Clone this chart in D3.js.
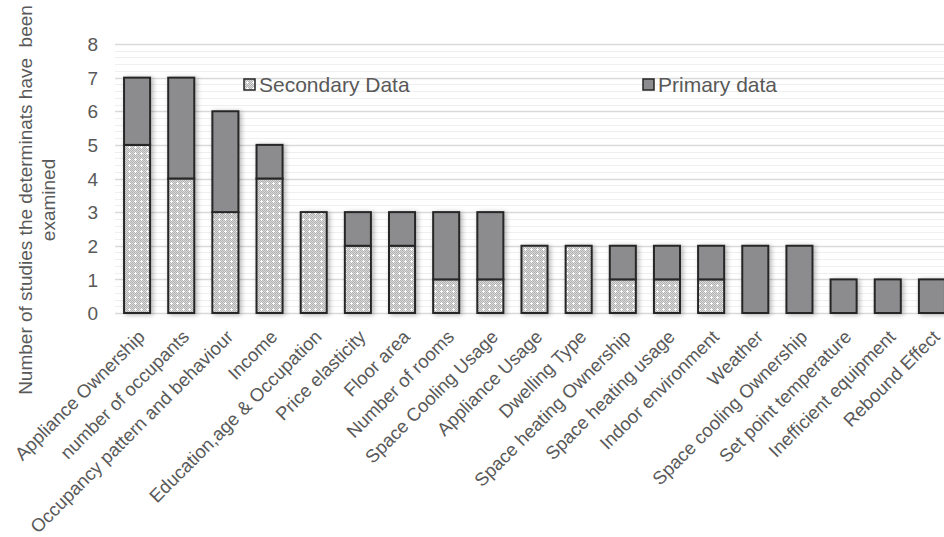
<!DOCTYPE html>
<html>
<head>
<meta charset="utf-8">
<script src="https://cdn.jsdelivr.net/npm/d3@7"></script>
<style>
  html, body { margin: 0; padding: 0; background: #fff; }
  svg { display: block; font-family: "Liberation Sans", Arial, sans-serif; }
</style>
</head>
<body>
<svg id="chart" width="944" height="537"></svg>
<script>
const categories = ["Appliance Ownership","number of occupants","Occupancy pattern and behaviour","Income","Education,age & Occupation","Price elasticity","Floor area","Number of rooms","Space Cooling Usage","Appliance Usage","Dwelling Type","Space heating Ownership","Space heating usage","Indoor environment","Weather","Space cooling Ownership","Set point temperature","Inefficient equipment","Rebound Effect"];
const secondary = [5,4,3,4,3,2,2,1,1,2,2,1,1,1,0,0,0,0,0];
const primary   = [2,3,3,1,0,1,1,2,2,0,0,1,1,1,2,2,1,1,1];
const seriesNames = ["Secondary Data","Primary data"];
const yTicks = [0,1,2,3,4,5,6,7,8];
const yTitle = ["Number of studies the determinats have  been","examined"];

const svg = d3.select("#chart");
const W = 944, H = 537;
const plot = {left:115, right:954, top:44, bottom:313};
const txt = "#595959";

const defs = svg.append("defs");
const pat = defs.append("pattern").attr("id","dots").attr("patternUnits","userSpaceOnUse")
  .attr("width",6).attr("height",6);
pat.append("rect").attr("width",6).attr("height",6).attr("fill","#dadada");
for (let i=0;i<6;i++) for (let j=0;j<6;j++) if ((i+j)%2===0)
  pat.append("rect").attr("x",i).attr("y",j).attr("width",1).attr("height",1).attr("fill","#b2b2b2");
pat.append("rect").attr("x",3).attr("y",2).attr("width",1).attr("height",3).attr("fill","#ffffff");
pat.append("rect").attr("x",2).attr("y",3).attr("width",3).attr("height",1).attr("fill","#ffffff");

const f = defs.append("filter").attr("id","shadow").attr("x","-30%").attr("y","-10%").attr("width","160%").attr("height","120%");
f.append("feGaussianBlur").attr("in","SourceAlpha").attr("stdDeviation",2.5);
f.append("feOffset").attr("dx",2).attr("dy",1).attr("result","b");
f.append("feComponentTransfer").append("feFuncA").attr("type","linear").attr("slope",0.3);
const m = f.append("feMerge"); m.append("feMergeNode"); m.append("feMergeNode").attr("in","SourceGraphic");

const x = d3.scaleBand().domain(categories).range([plot.left, plot.right]).paddingInner(0.41).paddingOuter(0.205);
const y = d3.scaleLinear().domain([0,8]).range([plot.bottom, plot.top]);

// minor gridlines
const minor = d3.range(0, 8.0001, 0.2).filter(v => Math.abs(v - Math.round(v)) > 1e-6);
svg.append("g").selectAll("line").data(minor).join("line")
  .attr("x1",plot.left).attr("x2",W).attr("y1",d=>Math.round(y(d))+0.5).attr("y2",d=>Math.round(y(d))+0.5)
  .attr("stroke","#efefef").attr("stroke-width",1.2);
// major gridlines
svg.append("g").selectAll("line").data(yTicks).join("line")
  .attr("x1",plot.left).attr("x2",W).attr("y1",d=>Math.round(y(d))+0.5).attr("y2",d=>Math.round(y(d))+0.5)
  .attr("stroke","#d9d9d9").attr("stroke-width",1.5);

// y axis
const yAxis = d3.axisLeft(y).tickValues(yTicks).tickSize(0).tickPadding(0);
const ya = svg.append("g").attr("transform","translate(98,0)").call(yAxis);
ya.select(".domain").remove();
ya.selectAll("text").attr("font-size",19).attr("fill",txt).attr("font-family","Liberation Sans, Arial, sans-serif").attr("dy","0.35em");

// bars
const stackData = categories.map((c,i)=>({cat:c, s:secondary[i], p:primary[i]}));
const g = svg.append("g").attr("filter","url(#shadow)");
g.selectAll("rect.sec").data(stackData.filter(d=>d.s>0)).join("rect").attr("class","sec")
  .attr("x",d=>x(d.cat)).attr("width",x.bandwidth())
  .attr("y",d=>y(d.s)).attr("height",d=>y(0)-y(d.s))
  .attr("fill","url(#dots)").attr("stroke","#262626").attr("stroke-width",2);
g.selectAll("rect.pri").data(stackData.filter(d=>d.p>0)).join("rect").attr("class","pri")
  .attr("x",d=>x(d.cat)).attr("width",x.bandwidth())
  .attr("y",d=>y(d.s+d.p)).attr("height",d=>y(d.s)-y(d.s+d.p))
  .attr("fill","#8c8c8e").attr("stroke","#262626").attr("stroke-width",2);

// x labels
const xAxis = d3.axisBottom(x).tickSize(0).tickPadding(0);
const xa = svg.append("g").attr("transform",`translate(0,${plot.bottom})`).call(xAxis);
xa.select(".domain").remove();
xa.selectAll("text").attr("font-size",18.5).attr("fill",txt)
  .attr("font-family","Liberation Sans, Arial, sans-serif")
  .attr("text-anchor","end").attr("dy",0).attr("y",0)
  .attr("transform","translate(9,25) rotate(-45)");

// legend
const legend = [
  {name:seriesNames[0], fill:"url(#dots)", x:244},
  {name:seriesNames[1], fill:"#8c8c8e", x:643}
];
const lg = svg.append("g").selectAll("g").data(legend).join("g").attr("transform",d=>`translate(${d.x},79)`);
lg.append("rect").attr("width",11).attr("height",11).attr("fill",d=>d.fill).attr("stroke","#262626").attr("stroke-width",1.5);
lg.append("text").attr("x",15).attr("y",13).attr("font-size",21).attr("fill",txt).text(d=>d.name);

// y title
const yt = svg.append("text").attr("transform","translate(0,200) rotate(-90)")
  .attr("text-anchor","middle").attr("font-size",19).attr("fill",txt).style("white-space","pre");
yt.append("tspan").attr("x",0).attr("y",32).text(yTitle[0]);
yt.append("tspan").attr("x",0).attr("y",55).text(yTitle[1]);
</script>
</body>
</html>
